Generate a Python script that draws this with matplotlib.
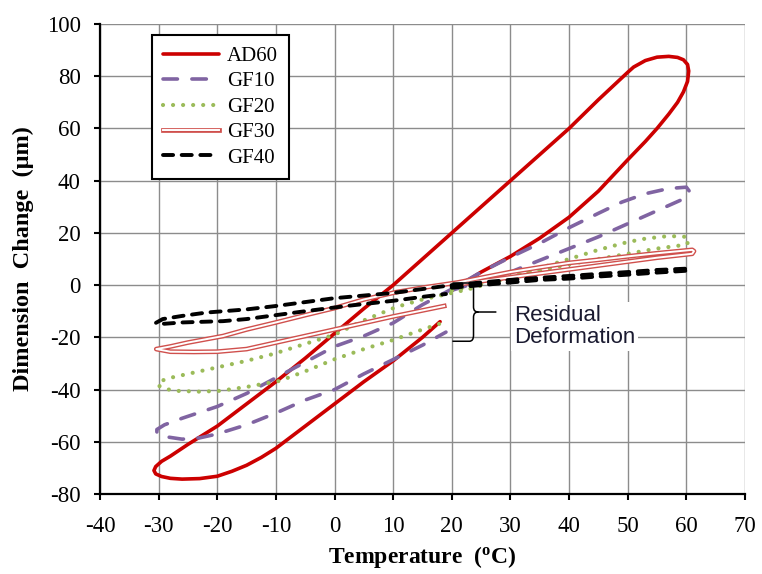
import matplotlib
matplotlib.use("Agg")
import matplotlib.pyplot as plt
from matplotlib.path import Path
from matplotlib.patches import PathPatch
import matplotlib.patheffects as pe

# ---------------- data ----------------
ad60_t = [20, 25, 30, 35, 40, 45, 50, 53, 55, 57, 58.5, 59.5, 60.2, 60.4, 60.2, 59.5, 58.5, 57, 55, 53, 51, 50,
          45, 40, 35, 30, 25, 20, 15, 10, 5, 0, -5, -10, -15, -20, -25, -28, -29.5, -30.5, -30.8, -30.5, -29.5,
          -28, -26, -23, -20, -17.5, -15, -12.5, -10, -5, 0, 5, 10, 15, 18]
ad60_d = [-2, 5, 11, 18, 26, 36, 48, 55, 60, 65.5, 70, 74, 78, 82, 84.5, 86.3, 87.2, 87.6, 87.3, 86, 83.5, 81.5,
          71, 60, 50, 40, 30, 20, 10, 0, -9, -18.5, -28, -37, -45.5, -54, -61, -65.5, -67.5, -69.5, -71, -72.3, -73.3,
          -74, -74.3, -74.1, -73.2, -71.3, -69, -66, -62.5, -54, -45.5, -37, -29, -20, -14]

gf10_t = [20, 25, 30, 35, 40, 45, 50, 55, 60, 60.5, 60, 57, 53, 49, 45, 40, 35, 30, 25, 20, 15, 10, 5, 0,
          -5, -10, -15, -20, -26, -29, -30.3, -30.3, -29, -26, -23, -20, -15, -10, -5, 0, 5, 10, 15, 19]
gf10_d = [-2, 1.5, 5, 9.5, 14, 18.5, 23.5, 28.5, 33.5, 36, 37.5, 37, 35, 31.8, 27.5, 22, 16, 10.7, 5, -1.5, -7.5, -14.5, -19.5, -23.5,
          -29.5, -35.5, -41.5, -46.5, -51, -53.5, -55.3, -56.8, -58, -59, -58.5, -57, -53.5, -49, -44, -40, -34, -28.5, -23, -18]

gf20_t = [20, 25, 30, 35, 40, 45, 50, 55, 60, 60.5, 60, 57, 53, 50, 45, 40, 35, 30, 23, 20, 15, 10.5, 5, 0,
          -5, -10.5, -15, -20, -25, -28, -30, -30, -29, -27, -23, -19.6, -15, -9.4, -5, 0, 5, 10, 15, 19]
gf20_d = [-2, 0.5, 3, 5.5, 8, 10, 12, 14, 15.5, 17, 18.5, 18.8, 17.8, 16.5, 13.5, 10, 6.5, 3, -1.5, -3, -5.5, -8.4, -13.5, -19,
          -22.5, -26.4, -29, -31.5, -34, -35.5, -37, -38.5, -39.7, -40.5, -40.8, -40.5, -39, -36.7, -33, -28.4, -24.5, -21, -17, -14]

gf30_t = [20, 25, 30, 35, 40, 45, 50, 55, 61, 61.3, 61, 55, 50, 45, 40, 35, 30, 25, 21, 15, 10.5, 5, 0,
          -5, -10, -15, -19, -25, -28, -30.4, -28, -24, -20, -15, -10, -5, 0, 5, 10, 15, 18.7]
gf30_d = [0, 1.5, 3, 4.5, 6, 7.5, 9, 10.5, 12, 13, 13.5, 12.2, 11, 9.7, 8.5, 6.8, 5, 2.8, 1, -1, -2.7, -5.5, -8.8,
          -11.5, -14.3, -17, -19.5, -22, -23.5, -24.5, -25.5, -25.6, -25.5, -24.5, -22, -19.5, -17, -14.5, -12, -9.7, -8]

gf40_t = [20, 25, 30, 35, 40, 45, 50, 55, 60, 60.5, 60, 55, 50, 45, 40, 35, 30, 25, 20, 15, 10, 5, 0,
          -5, -10, -15, -21.8, -26, -29.3, -30.5, -29, -26, -19, -15, -10, -5, 2, 10, 15, 19]
gf40_d = [-1, 0, 1, 2, 2.5, 3.3, 4, 4.8, 5.5, 6, 6.3, 5.8, 5, 4.3, 3.5, 2.8, 2, 1, 0, -1.5, -3, -4, -5,
          -6.5, -8, -9.3, -10.5, -11.8, -13, -14.5, -14.8, -14.3, -13.8, -13, -11.5, -10, -8, -6, -4.5, -3.4]

series_names = ["AD60", "GF10", "GF20", "GF30", "GF40"]
x_ticks = [-40, -30, -20, -10, 0, 10, 20, 30, 40, 50, 60, 70]
y_ticks = [-80, -60, -40, -20, 0, 20, 40, 60, 80, 100]

# ---------------- figure ----------------
serif = ["Liberation Serif", "DejaVu Serif"]
plt.rcParams["font.family"] = serif
plt.rcParams["axes.unicode_minus"] = False
plt.rcParams["mathtext.fontset"] = "custom"
plt.rcParams["mathtext.rm"] = "Liberation Serif:bold"

fig = plt.figure(figsize=(7.62, 5.74), dpi=100)
ax = fig.add_axes([100 / 762, 1 - 494 / 574, 645 / 762, 470 / 574])

ax.set_xlim(-40, 70)
ax.set_ylim(-80, 100)
ax.set_xticks(x_ticks)
ax.set_yticks(y_ticks)
ax.grid(True, color="#8c8c8c", linewidth=1.0)
ax.set_axisbelow(True)
for s in ["top", "right"]:
    ax.spines[s].set_visible(False)
for s in ["left", "bottom"]:
    ax.spines[s].set_linewidth(1.6)
    ax.spines[s].set_color("black")
ax.tick_params(direction="out", length=4.0, width=1.5, labelsize=16.5, colors="black")
ax.tick_params(axis="x", pad=12)
ax.tick_params(axis="y", pad=10)

l_ad60, = ax.plot(ad60_t, ad60_d, color="#CC0000", lw=2.6, solid_capstyle="round",
                  solid_joinstyle="round", zorder=3)
l_gf10, = ax.plot(gf10_t, gf10_d, color="#8064A2", lw=2.6, ls=(0, (4, 4)),
                  dash_capstyle="round", zorder=4)
l_gf20, = ax.plot(gf20_t, gf20_d, color="#9BBB59", lw=3.0, ls=(0, (0.01, 2.4)),
                  dash_capstyle="round", zorder=5)
l_gf30, = ax.plot(gf30_t, gf30_d, color="white", lw=1.4, solid_joinstyle="round", zorder=6,
                  path_effects=[pe.Stroke(linewidth=3.4, foreground="#D0504D"), pe.Normal()])
l_gf40, = ax.plot(gf40_t, gf40_d, color="black", lw=2.8, ls=(0, (2.6, 2.2)),
                  dash_capstyle="round", zorder=7)

leg = ax.legend([l_ad60, l_gf10, l_gf20, l_gf30, l_gf40], series_names,
                loc="upper left", bbox_to_anchor=(52 / 645, 1 - 11 / 470), borderaxespad=0,
                fontsize=15, handlelength=2.65, handletextpad=0.4, labelspacing=0.28,
                borderpad=0.55, fancybox=False, framealpha=1, edgecolor="black")
leg.get_frame().set_linewidth(1.5)

# brace annotation for residual deformation
verts = [(20.1, 0.8), (23.0, 0.8), (23.7, 0.8), (23.7, -1.5), (23.7, -8.4), (23.7, -10.3), (24.5, -10.3),
         (27.6, -10.3),
         (24.5, -10.3), (23.7, -10.3), (23.7, -12.3), (23.7, -19.2), (23.7, -21.5), (23.0, -21.5), (20.1, -21.5)]
codes = [Path.MOVETO, Path.LINETO, Path.CURVE3, Path.CURVE3, Path.LINETO, Path.CURVE3, Path.CURVE3,
         Path.LINETO,
         Path.MOVETO, Path.CURVE3, Path.CURVE3, Path.LINETO, Path.CURVE3, Path.CURVE3, Path.LINETO]
ax.add_patch(PathPatch(Path(verts, codes), fill=False, edgecolor="black", lw=1.1, zorder=8))
ax.text(30.6, -15.8, "Residual\nDeformation", family=["Liberation Sans", "DejaVu Sans"],
        fontsize=16, color="#1a1a30", ha="left", va="center", linespacing=1.1, zorder=8,
        bbox=dict(facecolor="white", edgecolor="none", pad=2))

ax.set_xlabel(r"Temperature  ($\mathregular{^o}$C)", fontsize=17, fontweight="bold", labelpad=5)
ax.set_ylabel("Dimension  Change  (\u03bcm)", fontsize=17.5, fontweight="bold", labelpad=9)

fig.savefig("out.png", dpi=100)
